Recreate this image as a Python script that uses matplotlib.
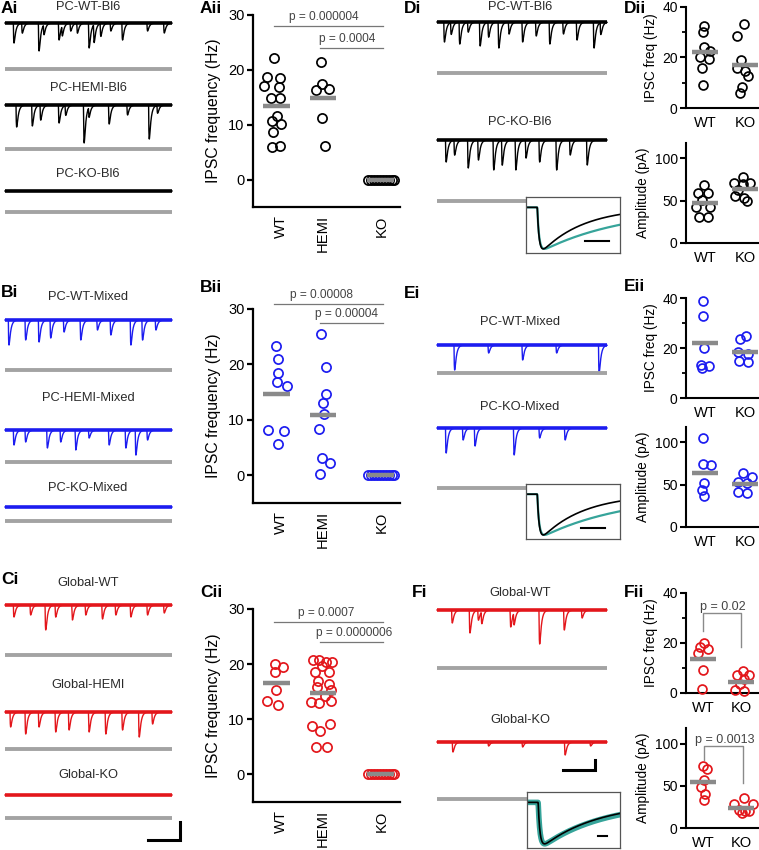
import numpy as np
import matplotlib
matplotlib.use('Agg')
import matplotlib.pyplot as plt

plt.rcParams['font.family'] = ['Liberation Sans', 'DejaVu Sans']

# ---------------- data ----------------
groups3 = ['WT', 'HEMI', 'KO']
groups2 = ['WT', 'KO']

A_WT = [22.1, 18.7, 18.5, 17.1, 16.8, 14.8, 14.8, 11.5, 10.6, 10.1, 8.6, 5.9, 6.2]
A_HEMI = [21.4, 17.4, 16.4, 16.6, 11.3, 6.2]
A_KO = [0, 0, 0, 0, 0, 0, 0, 0, 0, 0]
A_means = [13.5, 14.8, 0]
A_p = ['p = 0.000004', 'p = 0.0004']

B_WT = [23.4, 21.0, 18.5, 16.9, 16.1, 8.1, 8.0, 5.7]
B_HEMI = [25.5, 19.6, 14.7, 13.1, 11.0, 8.4, 3.2, 2.2, 0.2]
B_KO = [0, 0, 0, 0, 0, 0, 0, 0, 0, 0]
B_means = [14.7, 10.9, 0]
B_p = ['p = 0.00008', 'p = 0.00004']

C_WT = [20.0, 19.5, 18.5, 15.4, 13.3, 12.5]
C_HEMI = [20.7, 20.7, 20.4, 20.3, 19.6, 18.5, 18.5, 17.0, 16.4, 15.8, 15.4,
          14.2, 13.2, 13.0, 13.3, 8.7, 7.9, 9.1, 5.0, 5.0]
C_KO = [0, 0, 0, 0, 0, 0, 0, 0, 0, 0]
C_means = [16.5, 14.7, 0]
C_p = ['p = 0.0007', 'p = 0.0000006']

D_freq_WT = [32.6, 30.0, 24.0, 22.5, 20.2, 19.4, 15.8, 9.0]
D_freq_KO = [33.4, 28.6, 19.1, 15.8, 14.8, 12.5, 8.3, 5.9]
D_freq_means = [22.0, 17.2]
D_amp_WT = [68.4, 59.3, 58.5, 51.2, 42.7, 42.7, 30.8, 30.8]
D_amp_KO = [77.5, 71.0, 69.6, 71.0, 62.0, 55.0, 53.0, 50.0]
D_amp_means = [47.4, 63.2]

E_freq_WT = [38.7, 32.9, 20.0, 13.3, 12.9, 12.0]
E_freq_KO = [24.9, 23.6, 18.5, 17.5, 14.7, 14.3]
E_freq_means = [22.0, 18.4]
E_amp_WT = [104.7, 74.3, 73.1, 51.4, 43.5, 36.4]
E_amp_KO = [64.0, 58.5, 53.4, 52.0, 41.5, 40.3]
E_amp_means = [64.0, 51.0]

F_freq_WT = [20.1, 18.3, 17.5, 15.9, 9.3, 1.6]
F_freq_KO = [8.9, 7.3, 7.3, 5.5, 3.5, 1.1, 0.7]
F_freq_means = [13.8, 4.6]
F_amp_WT = [74.2, 70.2, 56.7, 48.4, 40.9, 32.9]
F_amp_KO = [35.7, 29.0, 29.0, 22.0, 20.0, 19.8, 18.0]
F_amp_means = [54.8, 23.8]
F_p = ['p = 0.02', 'p = 0.0013']

# trace events: (fraction of sweep, depth)
tr_A_WT = [(0.05, 20), (0.10, 10), (0.20, 28), (0.23, 10), (0.32, 17), (0.34, 10), (0.39, 8),
           (0.43, 10), (0.50, 25), (0.53, 18), (0.57, 13), (0.63, 8), (0.70, 17), (0.85, 8), (0.95, 10)]
tr_A_HEMI = [(0.066, 22), (0.16, 21), (0.21, 15), (0.32, 18), (0.36, 10), (0.47, 38), (0.50, 10),
             (0.62, 19), (0.73, 10), (0.86, 34), (0.91, 8)]
tr_B_WT = [(0.02, 25), (0.12, 20), (0.20, 22), (0.27, 18), (0.35, 12), (0.45, 20), (0.55, 10),
           (0.63, 15), (0.75, 25), (0.82, 20), (0.90, 10)]
tr_B_HEMI = [(0.05, 15), (0.12, 12), (0.25, 18), (0.33, 12), (0.42, 20), (0.50, 8), (0.62, 15),
             (0.72, 18), (0.78, 25), (0.85, 10)]
tr_C_WT = [(0.05, 12), (0.15, 10), (0.24, 25), (0.30, 12), (0.40, 15), (0.48, 10), (0.58, 14),
           (0.66, 10), (0.75, 12), (0.85, 10), (0.95, 8)]
tr_C_HEMI = [(0.03, 15), (0.12, 22), (0.20, 15), (0.30, 20), (0.38, 18), (0.50, 20), (0.60, 22),
             (0.70, 18), (0.80, 25), (0.88, 12)]
tr_D_WT = [(0.04, 20), (0.08, 12), (0.13, 22), (0.18, 10), (0.25, 24), (0.30, 15), (0.36, 26),
           (0.42, 12), (0.50, 20), (0.58, 14), (0.66, 22), (0.74, 12), (0.82, 18), (0.92, 26), (0.96, 12)]
tr_D_KO = [(0.05, 22), (0.10, 15), (0.18, 28), (0.24, 20), (0.33, 30), (0.38, 25), (0.46, 30),
           (0.52, 18), (0.60, 22), (0.70, 30), (0.78, 15), (0.88, 25)]
tr_E_WT = [(0.10, 25), (0.30, 8), (0.50, 15), (0.70, 8), (0.95, 28)]
tr_E_KO = [(0.05, 25), (0.15, 12), (0.22, 18), (0.45, 27), (0.60, 10), (0.75, 12)]
tr_F_WT = [(0.086, 13), (0.19, 23), (0.24, 10), (0.26, 12), (0.43, 17), (0.45, 12), (0.60, 34),
           (0.745, 20), (0.85, 8)]
tr_F_KO = [(0.09, 10), (0.30, 4), (0.50, 5), (0.75, 13), (0.90, 4)]

# ---------------- figure ----------------
W, H = 759, 850
fig = plt.figure(figsize=(W / 100, H / 100), dpi=100)
ov = fig.add_axes([0, 0, 1, 1])
ov.set_xlim(0, W)
ov.set_ylim(H, 0)
ov.axis('off')

BLACK, BLUE, RED = '#000000', '#1c1cf0', '#e3161b'
GRAY_TR, MEAN_C, TEAL = '#a3a3a3', '#8a8a8a', '#36a49a'


def pax(x0, y0, x1, y1):
    return fig.add_axes([x0 / W, 1 - y1 / H, (x1 - x0) / W, (y1 - y0) / H])


def kernel(t, tc, tau_r=0.0025, tau_d=0.010):
    dt = t - tc
    out = np.zeros_like(t)
    m = dt >= 0
    out[m] = (1 - np.exp(-dt[m] / tau_r)) * np.exp(-dt[m] / tau_d)
    return out


T = np.linspace(0, 1, 1200)
PEAK = kernel(T, 0.0).max()


def draw_trace(x0, x1, base, events, color, band=3.6):
    y = np.zeros_like(T)
    for tc, a in events:
        y += a * kernel(T, tc) / PEAK
    xs = x0 + T * (x1 - x0)
    ov.plot([x0, x1], [base, base], color=color, lw=band * 0.72, solid_capstyle='butt')
    ov.plot(xs, base + y, color=color, lw=1.0)


def draw_gray(x0, x1, base):
    ov.plot([x0, x1], [base, base], color=GRAY_TR, lw=2.8, solid_capstyle='butt')


def title(x, y, s):
    ov.text(x, y, s, ha='center', va='center', fontsize=9.3, color='#2a2a2a')


def plabel(x, y, s):
    ov.text(x, y, s, ha='left', va='top', fontsize=12.5, fontweight='bold')


# ----- column i traces (A-C) -----
LX0, LX1, LXC = 5, 172, 88
plabel(1, 1, 'Ai')
title(LXC, 7, 'PC-WT-Bl6'); draw_trace(LX0, LX1, 23, tr_A_WT, BLACK); draw_gray(LX0, LX1, 69)
title(LXC, 88, 'PC-HEMI-Bl6'); draw_trace(LX0, LX1, 105, tr_A_HEMI, BLACK); draw_gray(LX0, LX1, 149)
title(LXC, 174, 'PC-KO-Bl6'); draw_trace(LX0, LX1, 191, [], BLACK); draw_gray(LX0, LX1, 212)

plabel(1, 285, 'Bi')
title(LXC, 297, 'PC-WT-Mixed'); draw_trace(LX0, LX1, 320, tr_B_WT, BLUE); draw_gray(LX0, LX1, 370)
title(LXC, 398, 'PC-HEMI-Mixed'); draw_trace(LX0, LX1, 430, tr_B_HEMI, BLUE); draw_gray(LX0, LX1, 462)
title(LXC, 488, 'PC-KO-Mixed'); draw_trace(LX0, LX1, 507, [], BLUE); draw_gray(LX0, LX1, 521)

plabel(1, 572, 'Ci')
title(LXC, 583, 'Global-WT'); draw_trace(LX0, LX1, 605, tr_C_WT, RED); draw_gray(LX0, LX1, 655)
title(LXC, 685, 'Global-HEMI'); draw_trace(LX0, LX1, 712, tr_C_HEMI, RED); draw_gray(LX0, LX1, 749)
title(LXC, 775, 'Global-KO'); draw_trace(LX0, LX1, 795, [], RED); draw_gray(LX0, LX1, 818)
ov.plot([148, 180, 180], [840, 840, 822], color='k', lw=2.2, solid_joinstyle='miter')

# ----- column D-F traces -----
RX0, RX1, RXC = 437, 607, 520
plabel(404, 1, 'Di')
title(RXC, 7, 'PC-WT-Bl6'); draw_trace(RX0, RX1, 22, tr_D_WT, BLACK); draw_gray(RX0, RX1, 73)
title(RXC, 122, 'PC-KO-Bl6'); draw_trace(RX0, RX1, 140, tr_D_KO, BLACK); draw_gray(RX0, 527, 201)

plabel(404, 286, 'Ei')
title(RXC, 322, 'PC-WT-Mixed'); draw_trace(RX0, RX1, 345, tr_E_WT, BLUE); draw_gray(RX0, RX1, 373)
title(RXC, 407, 'PC-KO-Mixed'); draw_trace(RX0, RX1, 428, tr_E_KO, BLUE); draw_gray(RX0, 527, 488)

plabel(412, 585, 'Fi')
title(RXC, 593, 'Global-WT'); draw_trace(RX0, RX1, 610, tr_F_WT, RED); draw_gray(RX0, RX1, 668)
title(RXC, 720, 'Global-KO'); draw_trace(RX0, RX1, 742, tr_F_KO, RED); draw_gray(RX0, 527, 799)
ov.plot([563, 595, 595], [770, 770, 760], color='k', lw=2.2, solid_joinstyle='miter')


# ----- insets -----
def inset(x0, y0, x1, y1, tau_b, tau_t, bar, band=False):
    ax = pax(x0, y0, x1, y1)
    t = np.linspace(0, 1, 400)
    def w(tau):
        dt = np.clip(t - 0.12, 0, None)
        return -(1 - np.exp(-dt / 0.02)) * np.exp(-dt / tau)
    yt, yb = w(tau_t), w(tau_b)
    nt = -yt.min(); nb = -yb.min()
    ax.plot(t, yt / nt, color=TEAL, lw=4 if band else 1.6)
    ax.plot(t, yb / nb, color='k', lw=1.2)
    ax.plot(bar, [-0.82, -0.82], color='k', lw=1.5)
    ax.set_xlim(0, 1)
    ax.set_ylim(-1.1, 0.25)
    ax.set_xticks([]); ax.set_yticks([])
    for s in ax.spines.values():
        s.set_color('#555555'); s.set_linewidth(0.9)


inset(526, 197, 620, 253, 0.45, 0.9, [0.63, 0.88])
inset(526, 484, 620, 539, 0.45, 0.9, [0.58, 0.84])
inset(527, 792, 620, 848, 0.6, 0.65, [0.76, 0.86], band=True)


# ----- scatter panels -----
def style_ax(ax, lw=1.6):
    for s in ['top', 'right']:
        ax.spines[s].set_visible(False)
    for s in ['left', 'bottom']:
        ax.spines[s].set_linewidth(lw)
    ax.tick_params(axis='y', width=lw, length=4, labelsize=10.5, pad=2)
    ax.tick_params(axis='x', length=0, labelsize=10.5)


def dots(ax, cx, vals, jit, color, mean, bw, ms=6.6):
    xs = [cx + j for j in jit]
    ax.plot(xs, vals, 'o', mfc='none', mec=color, mew=1.25, ms=ms, clip_on=False, zorder=3)
    ax.plot([cx - bw / 2, cx + bw / 2], [mean, mean], color=MEAN_C, lw=3.2, solid_capstyle='butt',
            zorder=4)


KO_jit = [-13, -10, -7, -4, -1, 2, 5, 8, 11, 13]


def three_panel(y0, y1, data, jits, means, color, pvals, pl, label):
    ax = pax(253, y0, 400, y1)
    style_ax(ax)
    ax.set_xlim(0, 147)
    ax.set_ylim(-5, 30)
    ax.set_yticks([0, 10, 20, 30])
    centers = [23, 70, 128]
    for c, v, j, m in zip(centers, data, jits, means):
        dots(ax, c, v, j, color, m, 27)
    ax.set_xticks([28, 70, 129])
    ax.set_xticklabels(groups3, rotation=90, fontsize=10.6)
    ax.tick_params(axis='x', pad=6)
    ax.set_ylabel('IPSC frequency (Hz)', fontsize=11.3, labelpad=5)
    (l1, l2), (t1x, t2x) = pl
    ax.plot([21, 130], [l1, l1], color='#777777', lw=0.9, clip_on=False)
    ax.plot([67, 130], [l2, l2], color='#777777', lw=0.9, clip_on=False)
    ax.text(t1x, l1 + 0.5, pvals[0], ha='center', va='bottom', fontsize=8.6, color='#444444')
    ax.text(t2x, l2 + 0.5, pvals[1], ha='center', va='bottom', fontsize=8.6, color='#444444')
    ov.text(200, label[1], label[0], ha='left', va='top', fontsize=12.5, fontweight='bold')
    return ax


three_panel(15, 207, [A_WT, A_HEMI, A_KO],
            [[-2, -9.3, 4, -11.7, 3, -5.3, 4, 1.3, -4.3, 5, -3.3, -4.3, 4],
             [-2, -1, -7, 6.3, -1, 1.7], KO_jit],
            A_means, BLACK, A_p, ((28.0, 24.0), (71, 94)), ('Aii', 1))
three_panel(309, 503, [B_WT, B_HEMI, B_KO],
            [[0.3, 2, 2.3, 1.3, 10.7, -7.7, 8, 2],
             [-1.7, 2.7, 3.3, 0, 1, -4, -1, 7.3, -2.7], KO_jit],
            B_means, BLUE, B_p, ((30.9, 27.5), (69, 94)), ('Bii', 280))
three_panel(609, 802, [C_WT, C_HEMI, C_KO],
            [[-1.5, 6.8, -1.5, -0.5, -9.5, 2.2],
             [-10.3, -4, 2.7, 8.7, -1.3, -8, 6.3, -5.3, 6.3, -5.7, 7.7, 2, -12.3, -4, 7.7,
              -11.3, -3, 7, -7, 4.3], KO_jit],
            C_means, RED, C_p, ((27.7, 24.0), (73.5, 101)), ('Cii', 585))


def two_panel(y0, y1, ylim, yticks, minor, ylabel, data, jits, means, color, centers=(19, 59)):
    ax = pax(686, y0, 758, y1)
    style_ax(ax, lw=1.5)
    ax.set_xlim(0, 72)
    ax.set_ylim(*ylim)
    ax.set_yticks(yticks)
    if minor:
        ax.set_yticks(minor, minor=True)
        ax.tick_params(axis='y', which='minor', length=3, width=1.3)
    for c, v, j, m in zip(centers, data, jits, means):
        dots(ax, c, v, j, color, m, 26, ms=6.4)
    ax.set_xticks(list(centers))
    ax.set_xticklabels(groups2, fontsize=10.5)
    ax.tick_params(axis='x', pad=6)
    ax.tick_params(axis='y', labelsize=10)
    ax.set_ylabel(ylabel, fontsize=9.8, labelpad=3)
    return ax


def bracket(ax, xa, xb, ya, yb, ytop, txt):
    ax.plot([xa, xa, xb, xb], [ya, ytop, ytop, yb], color='#8a8a8a', lw=1.0, clip_on=False)
    ax.text((xa + xb) / 2 + 1, ytop * 1.0, txt, ha='center', va='bottom', fontsize=9,
            color='#444444')


two_panel(7, 108, (0, 40), [0, 20, 40], [10, 30], 'IPSC freq (Hz)', [D_freq_WT, D_freq_KO],
          [[-1, -1.7, -1, 5, -5, 4.3, -2.7, -1.7], [-1, -7.7, -4.3, -8.3, 0, 3.3, -3.3, -5]],
          D_freq_means, BLACK)
two_panel(143, 243, (0, 118), [0, 50, 100], None, 'Amplitude (pA)', [D_amp_WT, D_amp_KO],
          [[-1, -6.7, 2.7, -3.3, -9, 5, -5.7, 2.7], [-1.7, -11, -2.3, 5, -6.7, -10, -1, 1.7]],
          D_amp_means, BLACK)
ov.text(624, 1, 'Dii', ha='left', va='top', fontsize=12.5, fontweight='bold')

two_panel(298, 398, (0, 40), [0, 20, 40], [10, 30], 'IPSC freq (Hz)', [E_freq_WT, E_freq_KO],
          [[-1.7, -2.3, -0.7, -4, 3.7, -3], [1, -5, -6.7, 3.3, -6, 3.3]],
          E_freq_means, BLUE)
two_panel(427, 527, (0, 118), [0, 50, 100], None, 'Amplitude (pA)', [E_amp_WT, E_amp_KO],
          [[-2.3, -2.3, 6, -0.7, -3, -0.7], [-2.3, 7.3, -6.7, 1.7, -6.7, 2.3]],
          E_amp_means, BLUE)
ov.text(624, 279, 'Eii', ha='left', va='top', fontsize=12.5, fontweight='bold')

axf1 = two_panel(593, 693, (0, 40), [0, 20, 40], [10, 30], 'IPSC freq (Hz)', [F_freq_WT, F_freq_KO],
                 [[0.7, -3.3, 4.7, -5, -0.3, -1], [1.7, -4, 7.7, 2.7, -0.7, -5.7, 3.3]],
                 F_freq_means, RED, centers=(17, 55))
bracket(axf1, 17, 55, 24.9, 18.4, 32.0, F_p[0])
axf2 = two_panel(728, 828, (0, 119), [0, 50, 100], None, 'Amplitude (pA)', [F_amp_WT, F_amp_KO],
                 [[0, 4, 1.3, -1.7, 1.7, 1.3], [3.3, -6.7, 12, -2.3, 4.3, 7.7, 1]],
                 F_amp_means, RED, centers=(17, 55))
bracket(axf2, 18, 57, 80.9, 53.5, 97.6, F_p[1])
ov.text(624, 585, 'Fii', ha='left', va='top', fontsize=12.5, fontweight='bold')

fig.savefig('out.png', dpi=100)
